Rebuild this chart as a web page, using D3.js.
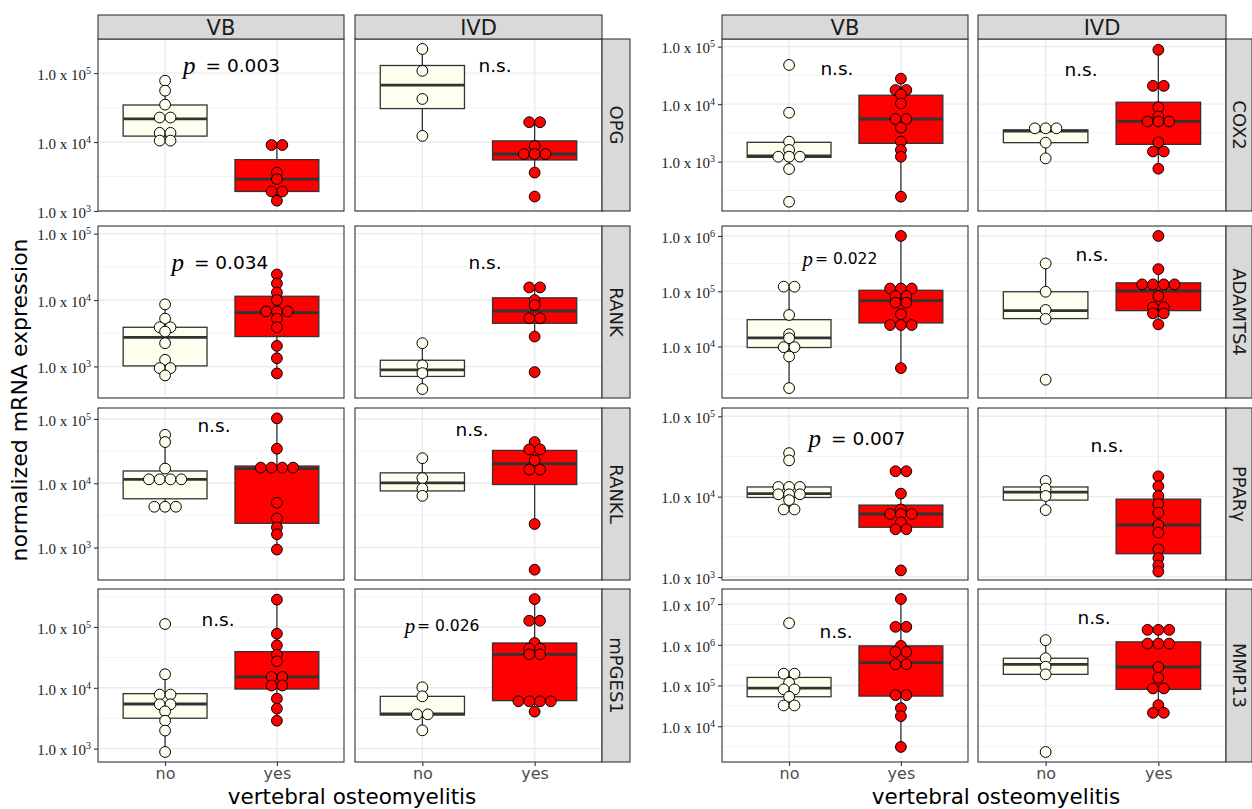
<!DOCTYPE html>
<html>
<head>
<meta charset="utf-8">
<script src="https://cdn.jsdelivr.net/npm/d3@7"></script>
<style>
  body { margin: 0; background: #fff; }
  svg { display: block; }
</style>
</head>
<body>
<div id="chart"></div>
<script>
// categories
const xCats = ['no', 'yes'];
const tissues = ['VB', 'IVD'];
const genesLeft = ['OPG', 'RANK', 'RANKL', 'mPGES1'];
const genesRight = ['COX2', 'ADAMTS4', 'PPARγ', 'MMP13'];

// y limits of every facet row (log10 units)
const limLeft = [[3.0, 5.495], [2.525, 5.115], [2.495, 5.17], [2.78, 5.625]];
const limRight = [[2.142, 5.133], [3.069, 6.18], [2.963, 5.103], [3.122, 7.37]];

// dots, order: VB no, VB yes, IVD no, IVD yes
const ptsOPG = [
  [77600, 55600, 34900, 22700, 22700, 13600, 13600, 10500, 10500],
  [9060, 9060, 3610, 2900, 1920, 1920, 1410],
  [224000, 108000, 42200, 12300],
  [19400, 19400, 8750, 6710, 6710, 6710, 3610, 1620]
];
const ptsRANK = [
  [8610, 5250, 3890, 3890, 3350, 2240, 1260, 944, 944, 733],
  [24300, 17800, 13000, 10000, 6760, 6760, 6760, 5250, 3890, 2040, 1330, 785],
  [2240, 1040, 794, 457],
  [15500, 15500, 10000, 8410, 5310, 5310, 2820, 822]
];
const ptsRANKL = [
  [56600, 43700, 16900, 11500, 11500, 11500, 11500, 4310, 4310, 4310],
  [102000, 34400, 17500, 17500, 17500, 17500, 4970, 2840, 2060, 1610, 931],
  [24500, 12000, 8280, 6370],
  [43700, 33600, 33600, 22700, 16300, 16300, 2320, 452]
];
const ptsMPGES1 = [
  [112000, 16700, 7730, 7730, 5360, 5360, 4110, 2880, 1980, 881],
  [282000, 77600, 50000, 35100, 27300, 15100, 15100, 10900, 10900, 6640, 4550, 2880],
  [10200, 7240, 3660, 3660, 2000],
  [288000, 127000, 127000, 54600, 44100, 44100, 35500, 35500, 6000, 6000, 6000, 6000, 4060]
];
const ptsCOX2 = [
  [48000, 7110, 2230, 1600, 1220, 1220, 1220, 745, 201],
  [27700, 17600, 17600, 14800, 10300, 5520, 5520, 3900, 2230, 1600, 1220, 246],
  [3800, 3800, 3800, 2140, 1140],
  [88100, 20800, 20800, 8810, 6070, 5000, 5000, 5000, 2170, 1500, 1500, 755]
];
const ptsADAMTS4 = [
  [121000, 121000, 37200, 16700, 14100, 9730, 9730, 6610, 1770],
  [1000000, 112000, 112000, 112000, 81800, 81800, 62100, 62100, 38300, 24500, 24500, 24500, 4070],
  [318000, 97900, 45800, 31600, 2510],
  [1000000, 251000, 133000, 133000, 133000, 133000, 81800, 51200, 51200, 39800, 39800, 25200]
];
const ptsPPARG = [
  [34800, 28300, 13200, 13200, 13200, 10700, 10700, 10700, 9060, 6930, 6930],
  [20700, 20700, 10900, 6930, 6080, 6080, 6080, 4790, 3930, 3930, 1210],
  [15700, 12600, 10200, 6810],
  [17900, 13500, 10200, 8070, 6310, 4440, 3570, 2220, 1720, 1390, 1170]
];
const ptsMMP13 = [
  [3400000, 195000, 195000, 117000, 80400, 80400, 53000, 32400, 32400],
  [13300000, 2760000, 2760000, 940000, 668000, 668000, 332000, 332000, 58200, 58200, 27900, 17700, 3100],
  [1300000, 467000, 290000, 188000, 2330],
  [2330000, 2330000, 2330000, 1070000, 1070000, 1070000, 285000, 156000, 84900, 84900, 33000, 21400, 21400]
];

// box stats: [lower whisker, q1, median, q3, upper whisker]
const boxOPG = [[10500, 12200, 21700, 34500, 77600], [1410, 1920, 2900, 5560, 9060],
  [12300, 30600, 67100, 129000, 224000], [3610, 5500, 6710, 10400, 19400]];
const boxRANK = [[733, 1020, 2750, 3890, 8610], [785, 2820, 6460, 11400, 24300],
  [457, 708, 891, 1240, 2240], [2820, 4470, 6840, 10800, 15500]];
const boxRANKL = [[4310, 5730, 11500, 15500, 56600], [931, 2380, 16900, 18500, 102000],
  [6370, 7590, 10100, 14500, 24500], [2320, 9550, 20100, 32400, 43700]];
const boxMPGES1 = [[881, 3160, 5420, 8020, 16700], [2880, 9550, 15100, 39400, 282000],
  [2000, 3570, 3720, 7240, 10200], [4060, 6150, 35500, 54600, 288000]];
const boxCOX2 = [[745, 1190, 1260, 2170, 2230], [246, 2080, 5520, 14300, 27700],
  [1140, 2140, 3410, 3560, 3800], [755, 2000, 5000, 10800, 88100]];
const boxADAMTS4 = [[1770, 9600, 14300, 30600, 121000], [4070, 26700, 67500, 104000, 1000000],
  [31600, 32000, 44600, 97900, 318000], [25200, 44600, 101000, 142000, 251000]];
const boxPPARG = [[6930, 9770, 10900, 13200, 13200], [3930, 4160, 6080, 7850, 10900],
  [6810, 9060, 11400, 13200, 15700], [1170, 1950, 4440, 9310, 17900]];
const boxMMP13 = [[32400, 53000, 86700, 158000, 195000], [3100, 55000, 365000, 940000, 13300000],
  [188000, 188000, 332000, 467000, 1300000], [21400, 80400, 285000, 1180000, 2330000]];

// test labels per row: [VB, IVD]
const notesLeft = [['p = 0.003', 'n.s.'], ['p = 0.034', 'n.s.'], ['n.s.', 'n.s.'], ['n.s.', 'p= 0.026']];
const notesRight = [['n.s.', 'n.s.'], ['p= 0.022', 'n.s.'], ['p = 0.007', 'n.s.'], ['n.s.', 'n.s.']];
// where the labels sit (x in category units, y in data units)
const noteXLeft = [[1.594, 1.647], [1.49, 1.558], [1.437, 1.442], [1.473, 1.175]];
const noteYLeft = [[132000, 127000], [37200, 37200], [79400, 68400], [132000, 105000]];
const noteXRight = [[1.428, 1.314], [1.455, 1.411], [1.607, 1.544], [1.42, 1.429]];
const noteYRight = [[40900, 39400], [380000, 468000], [53000, 43400], [2160000, 4790000]];

const W = 1252, H = 809;
const rowY = [[39, 211], [226, 398], [408, 580], [589, 762]];
const stripTop = [15, 39];
const fills = { no: '#FFFFF0', yes: '#FF0000' };
const ink = '#333333';
const dotR = 5.4;

const groups = [
  { genes: genesLeft, lims: limLeft,
    pts: [ptsOPG, ptsRANK, ptsRANKL, ptsMPGES1], box: [boxOPG, boxRANK, boxRANKL, boxMPGES1],
    notes: notesLeft, noteX: noteXLeft, noteY: noteYLeft,
    panelX: [[98, 344], [355, 602]], stripX: [602, 630], titleX: 352 },
  { genes: genesRight, lims: limRight,
    pts: [ptsCOX2, ptsADAMTS4, ptsPPARG, ptsMMP13], box: [boxCOX2, boxADAMTS4, boxPPARG, boxMMP13],
    notes: notesRight, noteX: noteXRight, noteY: noteYRight,
    panelX: [[722, 968], [978, 1226]], stripX: [1226, 1252], titleX: 996 }
];

const svg = d3.select('#chart').append('svg')
  .attr('width', W).attr('height', H)
  .style('font-family', "'DejaVu Sans', Verdana, sans-serif");

function drawNote(g, x, y, label) {
  const m = label.match(/^p(\s?)=\s(.*)$/);
  const size = m && !m[1] ? 15.5 : 18.5;
  const t = g.append('text')
    .attr('x', x).attr('y', y)
    .attr('text-anchor', 'middle').attr('dominant-baseline', 'central')
    .attr('font-size', size).attr('fill', '#000');
  if (m) {
    t.append('tspan').text('p')
      .attr('font-family', "'Liberation Serif', serif").attr('font-style', 'italic')
      .attr('font-size', size * 1.35);
    t.append('tspan').attr('dx', m[1] ? 10 : 2).text('= ' + m[2]);
  } else {
    t.text(label);
  }
}

groups.forEach(grp => {
  grp.genes.forEach((gene, r) => {
    const [y0, y1] = rowY[r];
    const [lo, hi] = grp.lims[r];
    const y = d3.scaleLog().domain([10 ** lo, 10 ** hi]).range([y1, y0]);
    const majors = d3.range(Math.ceil(lo - 1e-6), Math.floor(hi + 1e-6) + 1).map(e => 10 ** e);
    const minors = d3.range(Math.floor(lo) - 0.5, hi, 1).filter(e => e > lo).map(e => 10 ** e);

    tissues.forEach((tis, c) => {
      const [x0, x1] = grp.panelX[c];
      const xs = d3.scalePoint().domain(xCats).range([x0, x1]).padding(0.6);
      const xu = d3.scaleLinear().domain([0.4, 2.6]).range([x0, x1]);
      const boxW = xu(1.375) - xu(0.625);
      const g = svg.append('g');

      g.append('rect').attr('x', x0).attr('y', y0)
        .attr('width', x1 - x0).attr('height', y1 - y0).attr('fill', '#fff');

      // grid
      g.selectAll('line.minor').data(minors).join('line').attr('class', 'minor')
        .attr('x1', x0).attr('x2', x1).attr('y1', d => y(d)).attr('y2', d => y(d))
        .attr('stroke', '#f2f2f2').attr('stroke-width', 0.9);
      g.selectAll('line.major').data(majors).join('line').attr('class', 'major')
        .attr('x1', x0).attr('x2', x1).attr('y1', d => y(d)).attr('y2', d => y(d))
        .attr('stroke', '#ebebeb').attr('stroke-width', 1.4);
      g.selectAll('line.vmajor').data(xCats).join('line').attr('class', 'vmajor')
        .attr('x1', d => xs(d)).attr('x2', d => xs(d)).attr('y1', y0).attr('y2', y1)
        .attr('stroke', '#ebebeb').attr('stroke-width', 1.4);

      xCats.forEach((cat, k) => {
        const s = grp.box[r][c * 2 + k];
        const cx = xs(cat);
        // whiskers
        g.append('line').attr('x1', cx).attr('x2', cx).attr('y1', y(s[3])).attr('y2', y(s[4]))
          .attr('stroke', ink).attr('stroke-width', 1.3);
        g.append('line').attr('x1', cx).attr('x2', cx).attr('y1', y(s[1])).attr('y2', y(s[0]))
          .attr('stroke', ink).attr('stroke-width', 1.3);
        // box
        g.append('rect').attr('x', cx - boxW / 2).attr('width', boxW)
          .attr('y', y(s[3])).attr('height', y(s[1]) - y(s[3]))
          .attr('fill', fills[cat]).attr('stroke', ink).attr('stroke-width', 1.3);
        g.append('line').attr('x1', cx - boxW / 2).attr('x2', cx + boxW / 2)
          .attr('y1', y(s[2])).attr('y2', y(s[2]))
          .attr('stroke', ink).attr('stroke-width', 2.8);

        // dots, equal values are stacked side by side
        const stacks = d3.groups(grp.pts[r][c * 2 + k], v => v);
        const dots = [];
        stacks.forEach(([v, arr]) => {
          arr.forEach((_, j) => dots.push({ v, off: (j - (arr.length - 1) / 2) * dotR * 2 }));
        });
        g.selectAll('circle.d' + k).data(dots).join('circle').attr('class', 'd' + k)
          .attr('cx', d => cx + d.off).attr('cy', d => y(d.v)).attr('r', dotR)
          .attr('fill', fills[cat]).attr('stroke', '#000').attr('stroke-width', 1);
      });

      // border
      g.append('rect').attr('x', x0).attr('y', y0)
        .attr('width', x1 - x0).attr('height', y1 - y0)
        .attr('fill', 'none').attr('stroke', ink).attr('stroke-width', 1.1);

      drawNote(g, xu(grp.noteX[r][c]), y(grp.noteY[r][c]), grp.notes[r][c]);

      if (r === 0) {
        svg.append('rect').attr('x', x0).attr('y', stripTop[0])
          .attr('width', x1 - x0).attr('height', stripTop[1] - stripTop[0])
          .attr('fill', '#d9d9d9').attr('stroke', ink).attr('stroke-width', 1.1);
        svg.append('text').attr('x', (x0 + x1) / 2).attr('y', (stripTop[0] + stripTop[1]) / 2 + 1)
          .attr('text-anchor', 'middle').attr('dominant-baseline', 'central')
          .attr('font-size', 21).attr('fill', '#1a1a1a').text(tis);
      }

      if (c === 0) {
        const ax = svg.append('g').attr('transform', `translate(${x0},0)`)
          .call(d3.axisLeft(y).tickValues(majors).tickSize(4).tickPadding(3).tickFormat(''));
        ax.select('.domain').remove();
        ax.selectAll('.tick line').attr('stroke', ink).attr('stroke-width', 1.1);
        ax.selectAll('.tick text').each(function (d) {
          const t = d3.select(this).attr('font-family', "'Liberation Serif', serif")
            .attr('font-size', 15).attr('fill', '#222').attr('dy', '0.42em');
          t.append('tspan').text('1.0 x 10');
          t.append('tspan').attr('font-size', 10).attr('dy', -6).text(Math.round(Math.log10(d)));
        });
      }

      if (r === rowY.length - 1) {
        const ax = svg.append('g').attr('transform', `translate(0,${y1})`)
          .call(d3.axisBottom(xs).tickSize(4).tickPadding(2));
        ax.select('.domain').remove();
        ax.selectAll('.tick line').attr('stroke', ink).attr('stroke-width', 1.1);
        ax.selectAll('.tick text').attr('font-family', "'DejaVu Sans', sans-serif")
          .attr('font-size', 16).attr('fill', '#4d4d4d');
      }
    });

    // gene strip on the right
    const [sx0, sx1] = grp.stripX;
    svg.append('rect').attr('x', sx0).attr('y', y0)
      .attr('width', sx1 - sx0).attr('height', y1 - y0)
      .attr('fill', '#d9d9d9').attr('stroke', ink).attr('stroke-width', 1.1);
    svg.append('text')
      .attr('transform', `translate(${(sx0 + sx1) / 2},${(y0 + y1) / 2}) rotate(90)`)
      .attr('text-anchor', 'middle').attr('dominant-baseline', 'central')
      .attr('font-size', 18).attr('fill', '#1a1a1a').text(gene);
  });

  svg.append('text').attr('x', grp.titleX).attr('y', 804)
    .attr('text-anchor', 'middle').attr('font-size', 21.5).attr('fill', '#000')
    .text('vertebral osteomyelitis');
});

svg.append('text')
  .attr('transform', 'translate(27,400) rotate(-90)')
  .attr('text-anchor', 'middle').attr('font-size', 22).attr('fill', '#000')
  .text('normalized mRNA expression');
</script>
</body>
</html>
